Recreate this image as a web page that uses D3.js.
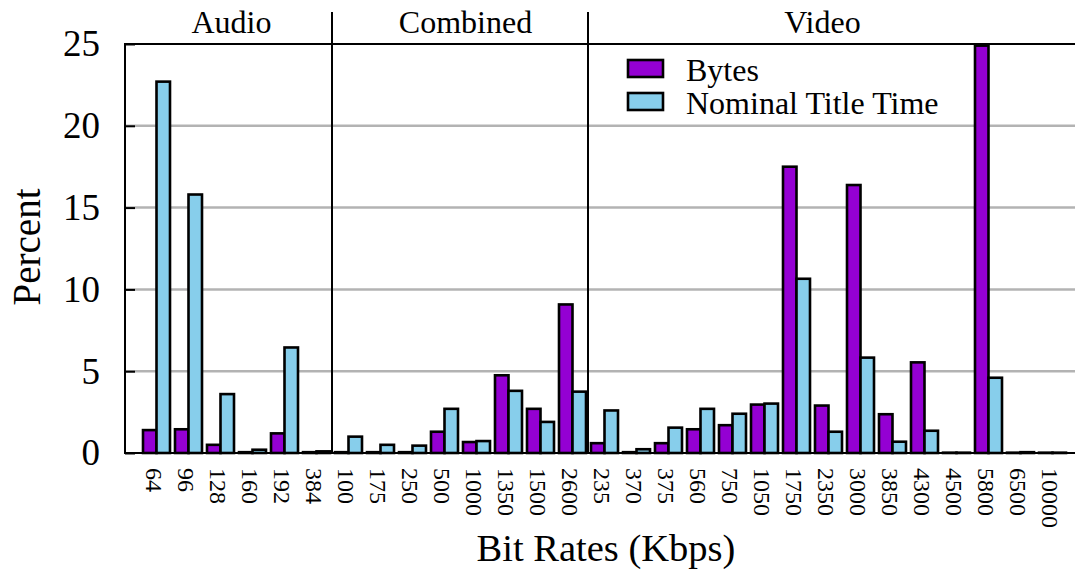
<!DOCTYPE html>
<html>
<head>
<meta charset="utf-8">
<script src="https://cdn.jsdelivr.net/npm/d3@7"></script>
<style>
  html, body { margin: 0; padding: 0; background: #fff; }
  svg { display: block; font-family: "Liberation Serif", "Times New Roman", serif; }
</style>
</head>
<body>
<svg id="chart" width="1075" height="571"></svg>
<script>
// Bit-rate categories, in plotting order
const categories = ["64", "96", "128", "160", "192", "384",
  "100", "175", "250", "500", "1000", "1350", "1500", "2600",
  "235", "370", "375", "560", "750", "1050", "1750", "2350", "3000",
  "3850", "4300", "4500", "5800", "6500", "10000"];

// Category groups and how many categories each one spans
const groupNames = ["Audio", "Combined", "Video"];
const groupSizes = [6, 8, 15];

// Series values (percent)
const seriesNames = ["Bytes", "Nominal Title Time"];
const bytes = [1.4, 1.45, 0.5, 0.05, 1.2, 0.05,
  0.05, 0.05, 0.05, 1.3, 0.67, 4.75, 2.7, 9.08,
  0.6, 0.05, 0.6, 1.45, 1.7, 2.96, 17.5, 2.9, 16.38,
  2.37, 5.54, 0.02, 24.9, 0.02, 0.02];
const nominalTime = [22.7, 15.8, 3.6, 0.2, 6.45, 0.1,
  1.0, 0.5, 0.45, 2.7, 0.73, 3.8, 1.9, 3.75,
  2.6, 0.23, 1.55, 2.7, 2.4, 3.02, 10.65, 1.3, 5.83,
  0.69, 1.36, 0.02, 4.6, 0.05, 0.02];

const yTicks = [0, 5, 10, 15, 20, 25];

const colors = ["#9400d3", "#87ceeb"];

const svg = d3.select("#chart");
const frame = { left: 125, right: 1075, top: 44, bottom: 453 };

const y = d3.scaleLinear().domain([0, 25]).range([frame.bottom, frame.top]);

const x = d3.scaleBand()
  .domain(categories)
  .range([140.5, 1068.5])
  .paddingInner(0.15625)
  .paddingOuter(0.078125);

const xSeries = d3.scaleBand()
  .domain(seriesNames)
  .range([0, x.bandwidth()]);

const table = categories.map((c, i) => ({
  cat: c,
  vals: [
    { s: seriesNames[0], v: bytes[i], c: colors[0] },
    { s: seriesNames[1], v: nominalTime[i], c: colors[1] }
  ]
}));

// Horizontal grid lines
svg.append("g")
  .selectAll("line")
  .data(yTicks.filter(t => t > 0 && t < 25))
  .join("line")
  .attr("x1", frame.left).attr("x2", frame.right)
  .attr("y1", d => y(d)).attr("y2", d => y(d))
  .attr("stroke", "#b3b3b3").attr("stroke-width", 2.5);

// Bars
svg.append("g")
  .selectAll("g")
  .data(table)
  .join("g")
  .attr("transform", d => `translate(${x(d.cat)},0)`)
  .selectAll("rect")
  .data(d => d.vals)
  .join("rect")
  .attr("x", d => xSeries(d.s))
  .attr("width", xSeries.bandwidth())
  .attr("y", d => y(d.v))
  .attr("height", d => y(0) - y(d.v))
  .attr("fill", d => d.c)
  .attr("stroke", "#000")
  .attr("stroke-width", 2.6);

// Frame: left, top and bottom edges
svg.append("path")
  .attr("d", `M${frame.right},${frame.top}H${frame.left}V${frame.bottom}H${frame.right}`)
  .attr("fill", "none").attr("stroke", "#000").attr("stroke-width", 2);

// Group separators and titles
let start = 0;
const bounds = [];
groupSizes.forEach(n => { bounds.push([start, start + n - 1]); start += n; });

bounds.slice(1).forEach(([s]) => {
  const xs = x(categories[s]) - x.step() * x.paddingInner() / 2 - 0.5;
  svg.append("line")
    .attr("x1", xs).attr("x2", xs)
    .attr("y1", 12).attr("y2", frame.bottom)
    .attr("stroke", "#000").attr("stroke-width", 2);
});

// Small horizontal nudges for the group titles
const titleShift = [-5, 5, -6];
svg.append("g")
  .selectAll("text")
  .data(bounds)
  .join("text")
  .attr("x", ([s, e], i) => (x(categories[s]) + x(categories[e]) + x.bandwidth()) / 2 + titleShift[i])
  .attr("y", 33)
  .attr("text-anchor", "middle")
  .attr("font-size", 32)
  .text((d, i) => groupNames[i]);

// Y axis
const yAxis = svg.append("g")
  .attr("transform", `translate(${frame.left},0)`)
  .call(d3.axisLeft(y).tickValues(yTicks).tickSizeInner(-10).tickSizeOuter(0).tickPadding(25));
yAxis.select(".domain").remove();
yAxis.selectAll("line").attr("stroke", "#000").attr("stroke-width", 2);
yAxis.selectAll("text")
  .attr("font-size", 37)
  .attr("font-family", "Liberation Serif")
  .attr("fill", "#000");

// X axis with vertical labels
const xAxis = svg.append("g")
  .attr("transform", `translate(0,${frame.bottom})`)
  .call(d3.axisBottom(x).tickSize(0));
xAxis.select(".domain").remove();
xAxis.selectAll("text")
  .attr("font-size", 24)
  .attr("font-family", "Liberation Serif")
  .attr("fill", "#000")
  .attr("text-anchor", "start")
  .attr("x", 15).attr("y", 0).attr("dy", "0.45em")
  .attr("transform", "rotate(90)");

// Axis titles
svg.append("text")
  .attr("x", 606).attr("y", 561)
  .attr("text-anchor", "middle")
  .attr("font-size", 38.5)
  .text("Bit Rates (Kbps)");

svg.append("text")
  .attr("transform", "translate(40,247) rotate(-90)")
  .attr("text-anchor", "middle")
  .attr("font-size", 39)
  .text("Percent");

// Legend
const legend = svg.append("g").attr("transform", "translate(628,60)");
seriesNames.forEach((name, i) => {
  legend.append("rect")
    .attr("x", 0).attr("y", i * 33)
    .attr("width", 35).attr("height", 17)
    .attr("fill", colors[i]).attr("stroke", "#000").attr("stroke-width", 2.6);
  legend.append("text")
    .attr("x", 58).attr("y", i * 33 + 21)
    .attr("font-size", 32)
    .text(name);
});
</script>
</body>
</html>
